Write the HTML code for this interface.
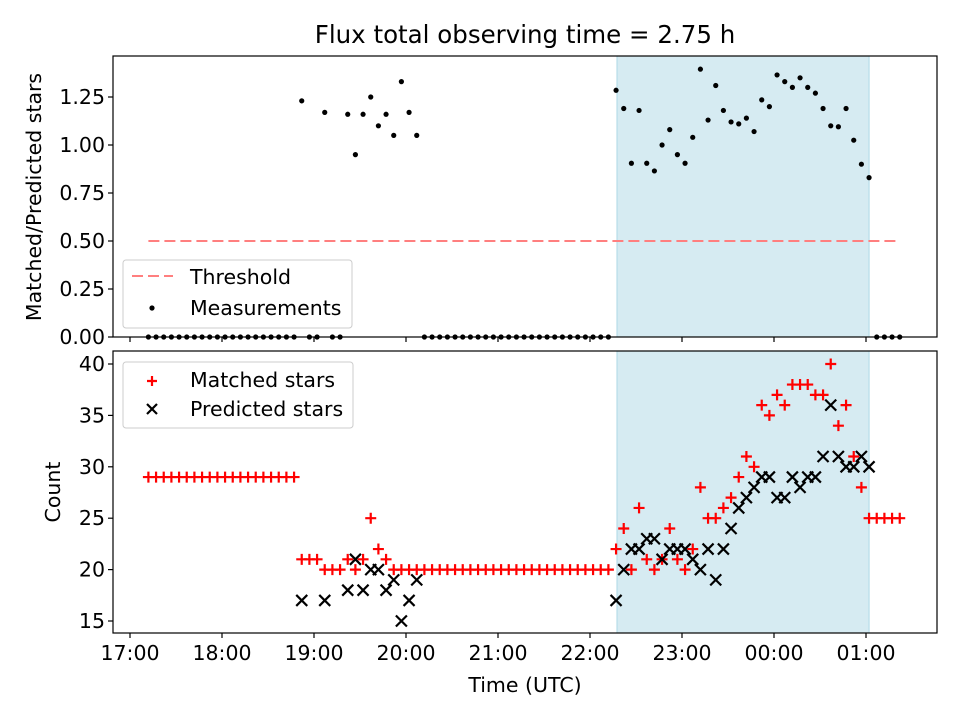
<!DOCTYPE html>
<html><head><meta charset="utf-8"><style>
body{margin:0;background:#fff}
svg{display:block;font-family:"DejaVu Sans","Liberation Sans",sans-serif}
</style></head><body>
<svg id="chart" width="960" height="720" viewBox="0 0 960 720" xmlns="http://www.w3.org/2000/svg"></svg>
<script>
// Data: index i => time 17:12 + 5*i minutes
const startMinute = 12;
const stepMinutes = 5;
const ratioIdx = [20,23,26,27,28,29,30,31,32,33,34,35,61,62,63,64,65,66,67,68,69,70,71,72,73,74,75,76,77,78,79,80,81,82,83,84,85,86,87,88,89,90,91,92,93,94];
const ratioVals = [1.23,1.17,1.16,0.95,1.16,1.25,1.10,1.16,1.05,1.33,1.17,1.05,1.285,1.19,0.905,1.18,0.905,0.865,1.00,1.08,0.95,0.905,1.04,1.395,1.13,1.31,1.18,1.12,1.11,1.14,1.07,1.235,1.20,1.365,1.33,1.30,1.35,1.30,1.27,1.19,1.10,1.095,1.19,1.025,0.90,0.83];
const totalPoints = 99;
const matched = [29,29,29,29,29,29,29,29,29,29,29,29,29,29,29,29,29,29,29,29,21,21,21,20,20,20,21,20,21,25,22,21,20,20,20,20,20,20,20,20,20,20,20,20,20,20,20,20,20,20,20,20,20,20,20,20,20,20,20,20,20,22,24,20,26,21,20,21,24,21,20,22,28,25,25,26,27,29,31,30,36,35,37,36,38,38,38,37,37,40,34,36,31,28,25,25,25,25,25];
const predictedIdx = [20,23,26,27,28,29,30,31,32,33,34,35,61,62,63,64,65,66,67,68,69,70,71,72,73,74,75,76,77,78,79,80,81,82,83,84,85,86,87,88,89,90,91,92,93,94];
const predictedVals = [17,17,18,21,18,20,20,18,19,15,17,19,17,20,22,22,23,23,21,22,22,22,21,20,22,19,22,24,26,27,28,29,29,27,27,29,28,29,29,31,36,31,30,30,31,30];
const xTickLabels = ["17:00","18:00","19:00","20:00","21:00","22:00","23:00","00:00","01:00"];
const topTicks = [0,0.25,0.5,0.75,1.0,1.25];
const botTicks = [15,20,25,30,35,40];
const threshold = 0.5;
const shadeStart = 317.6, shadeEnd = 482; // minutes after 17:00

const svg = document.getElementById('chart');
const NS = 'http://www.w3.org/2000/svg';
function mk(tag, attrs, parent){const e=document.createElementNS(NS,tag);for(const k in attrs)e.setAttribute(k,attrs[k]);(parent||svg).appendChild(e);return e;}
const L=113,R=937,T1=56,B1=337,T2=351,B2=633;
const xs = m => 130 + m*92/60;
const yTop = v => 337 - v*192;
const yBot = v => 621 - (v-15)*10.28;
const tMin = i => startMinute + stepMinutes*i;
const FS = 20.5;

let t=mk('text',{x:525,y:43,'font-size':'24.5','text-anchor':'middle',fill:'#000'});t.textContent='Flux total observing time = 2.75 h';


function panel(top,bot,name){
  const g=mk('g',{});
  const s=mk('rect',{x:xs(shadeStart),y:top,width:xs(shadeEnd)-xs(shadeStart),height:bot-top,fill:'#add8e6','fill-opacity':0.5,stroke:'#add8e6','stroke-width':1},g);
  
  return g;
}
const g1=panel(T1,B1,'ratio-panel');
const g2=panel(T2,B2,'count-panel');

let th=mk('line',{x1:xs(tMin(0)),x2:xs(tMin(totalPoints-1)),y1:yTop(threshold),y2:yTop(threshold),stroke:'#ff7f7f','stroke-width':2,'stroke-dasharray':'11,5'},g1);


for(let i=0;i<totalPoints;i++){
  const k=ratioIdx.indexOf(i);const v=k>=0?ratioVals[k]:0;
  const c=mk('circle',{cx:xs(tMin(i)),cy:yTop(v),r:2.6,fill:'#000'},g1);
  
  
}
for(let i=0;i<matched.length;i++){
  const x=xs(tMin(i)),y=yBot(matched[i]);
  const p=mk('path',{d:`M${x-5.5},${y}H${x+5.5}M${x},${y-5.5}V${y+5.5}`,stroke:'#f00','stroke-width':2.2},g2);
  
  
}
for(let k=0;k<predictedIdx.length;k++){
  const x=xs(tMin(predictedIdx[k])),y=yBot(predictedVals[k]);
  const p=mk('path',{d:`M${x-5.5},${y-5.5}L${x+5.5},${y+5.5}M${x-5.5},${y+5.5}L${x+5.5},${y-5.5}`,stroke:'#000','stroke-width':2.2},g2);
  
  
}

function frame(top,bot,name){
  const r=mk('rect',{x:L,y:top,width:R-L,height:bot-top,fill:'none',stroke:'#000','stroke-width':1.2});
  
}
frame(T1,B1,'ratio-axes-frame');frame(T2,B2,'count-axes-frame');
xTickLabels.forEach((lab,j)=>{
  const x=xs(j*60);
  mk('line',{x1:x,x2:x,y1:B1,y2:B1+5,stroke:'#000','stroke-width':1.2});
  mk('line',{x1:x,x2:x,y1:B2,y2:B2+5,stroke:'#000','stroke-width':1.2});
  const tx=mk('text',{x:x,y:B2+27,'font-size':FS,'text-anchor':'middle'});tx.textContent=lab;
  
});
topTicks.forEach(v=>{
  const y=yTop(v);mk('line',{x1:L-5,x2:L,y1:y,y2:y,stroke:'#000','stroke-width':1.2});
  const tx=mk('text',{x:L-8,y:y+7,'font-size':FS,'text-anchor':'end'});tx.textContent=v.toFixed(2);
  
});
botTicks.forEach(v=>{
  const y=yBot(v);mk('line',{x1:L-5,x2:L,y1:y,y2:y,stroke:'#000','stroke-width':1.2});
  const tx=mk('text',{x:L-8,y:y+7,'font-size':FS,'text-anchor':'end'});tx.textContent=v;
  
});
let yl=mk('text',{x:41,y:197,'font-size':FS,'text-anchor':'middle',transform:'rotate(-90 41 197)'});yl.textContent='Matched/Predicted stars';

let yl2=mk('text',{x:60,y:492,'font-size':FS,'text-anchor':'middle',transform:'rotate(-90 60 492)'});yl2.textContent='Count';

let xl=mk('text',{x:525,y:692,'font-size':FS,'text-anchor':'middle'});xl.textContent='Time (UTC)';


function legend(x,y,w,h,name){const r=mk('rect',{x,y,width:w,height:h,rx:3,fill:'#fff','fill-opacity':0.8,stroke:'#ccc'});}
legend(123,260,229,68,'ratio-legend');
mk('line',{x1:132,x2:173,y1:276,y2:276,stroke:'#ff7f7f','stroke-width':2,'stroke-dasharray':'11,5'});
let l1=mk('text',{x:190,y:284,'font-size':FS});l1.textContent='Threshold';
mk('circle',{cx:152,cy:308,r:2.6,fill:'#000'});
let l2=mk('text',{x:190,y:315,'font-size':FS});l2.textContent='Measurements';
legend(123,362,230,66,'count-legend');
mk('path',{d:'M147,381H157M152,376V386',stroke:'#f00','stroke-width':2.2});
let l3=mk('text',{x:190,y:387,'font-size':FS});l3.textContent='Matched stars';
mk('path',{d:'M147,404L157,414M147,414L157,404',stroke:'#000','stroke-width':2.2});
let l4=mk('text',{x:190,y:416,'font-size':FS});l4.textContent='Predicted stars';
</script>
</body></html>
